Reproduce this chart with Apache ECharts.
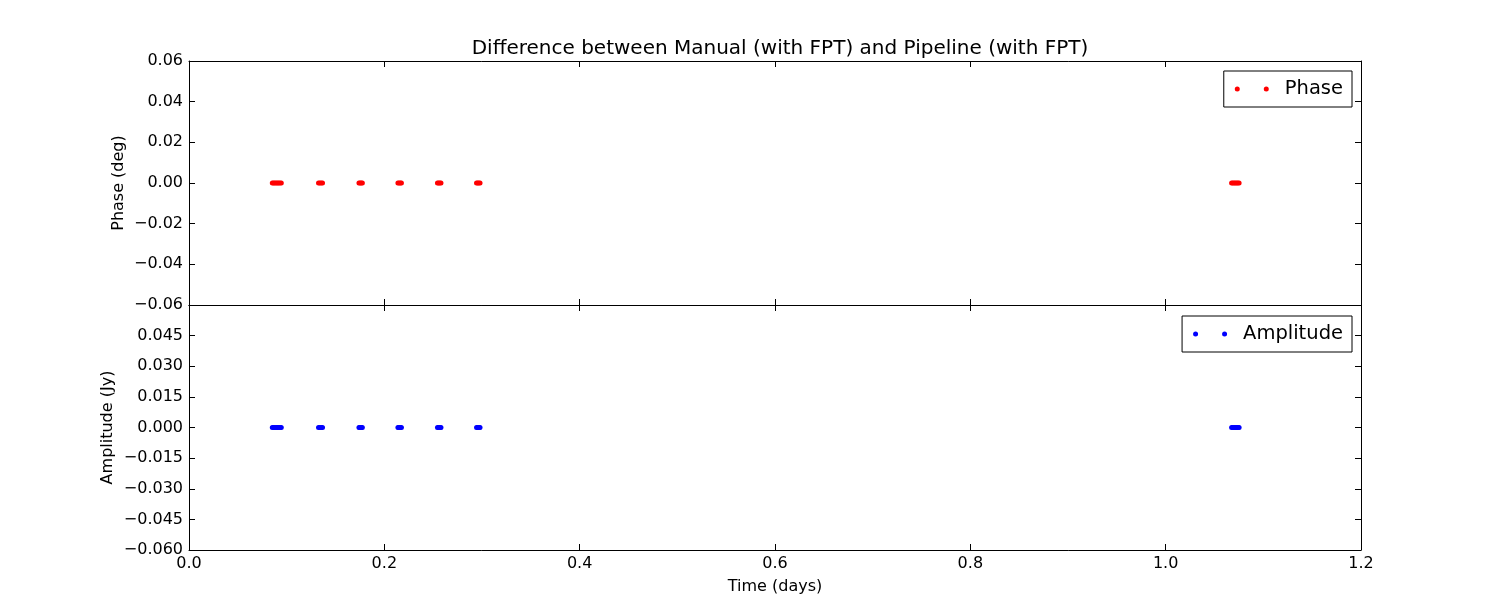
<!DOCTYPE html>
<html>
<head>
<meta charset="UTF-8">
<title>Difference between Manual (with FPT) and Pipeline (with FPT)</title>
<script src="https://cdn.jsdelivr.net/npm/echarts@6/dist/echarts.min.js"></script>
<style>
  html, body { margin: 0; padding: 0; background: #fff; }
  #chart { width: 1512px; height: 612px; }
</style>
</head>
<body>
<div id="chart"></div>
<script>
const times = [
  0.0853, 0.0866, 0.0879, 0.0892, 0.0905, 0.0918, 0.0931, 0.0945,
  0.1326, 0.1340, 0.1353, 0.1367,
  0.1740, 0.1752, 0.1763, 0.1775,
  0.2139, 0.2151, 0.2163, 0.2175,
  0.2544, 0.2556, 0.2568, 0.2580,
  0.2944, 0.2956, 0.2968, 0.2980,
  1.0675, 1.0688, 1.0700, 1.0713, 1.0726, 1.0739, 1.0752
];
// differences (all zero)
const phaseDiff = [
  0, 0, 0, 0, 0, 0, 0, 0,
  0, 0, 0, 0,
  0, 0, 0, 0,
  0, 0, 0, 0,
  0, 0, 0, 0,
  0, 0, 0, 0,
  0, 0, 0, 0, 0, 0, 0
];
const ampDiff = [
  0, 0, 0, 0, 0, 0, 0, 0,
  0, 0, 0, 0,
  0, 0, 0, 0,
  0, 0, 0, 0,
  0, 0, 0, 0,
  0, 0, 0, 0,
  0, 0, 0, 0, 0, 0, 0
];
const xRange = [0, 1.2, 0.2];
const phaseRange = [-0.06, 0.06, 0.02];
const ampRange = [-0.06, 0.06, 0.015];

const font = 'DejaVu Sans';
const minus = s => s.replace('-', '\u2212');
// two dots, like matplotlib's numpoints=2 legend marker
const twoDots = 'path://M0,2.5a2.5,2.5 0 1,0 5,0a2.5,2.5 0 1,0 -5,0M29,2.5a2.5,2.5 0 1,0 5,0a2.5,2.5 0 1,0 -5,0';

function xAx(grid, pos, labels) {
  return {
    type: 'value', gridIndex: grid, position: pos,
    min: xRange[0], max: xRange[1], interval: xRange[2],
    axisLine: { show: true, onZero: false, lineStyle: { color: '#000', width: 1 } },
    axisTick: { show: true, inside: true, length: 6, lineStyle: { color: '#000' } },
    splitLine: { show: false },
    axisLabel: {
      show: labels, color: '#000', fontFamily: font, fontSize: 16, margin: 6,
      formatter: v => v.toFixed(1)
    },
    name: labels ? 'Time (days)' : '',
    nameLocation: 'middle', nameGap: 29,
    nameTextStyle: { color: '#000', fontFamily: font, fontSize: 16 }
  };
}

function yAx(grid, pos, range, digits, name, gap, hideTop) {
  const left = pos === 'left';
  return {
    type: 'value', gridIndex: grid, position: pos,
    min: range[0], max: range[1], interval: range[2],
    axisLine: { show: true, onZero: false, lineStyle: { color: '#000', width: 1 } },
    axisTick: { show: true, inside: true, length: 6, lineStyle: { color: '#000' } },
    splitLine: { show: false },
    axisLabel: {
      show: left, color: '#000', fontFamily: font, fontSize: 16, margin: 6,
      formatter: v => (hideTop && Math.abs(v - range[1]) < 1e-9) ? '' : minus(v.toFixed(digits))
    },
    name: left ? name : '',
    nameLocation: 'middle', nameGap: gap, nameMoveOverlap: false,
    nameTextStyle: { color: '#000', fontFamily: font, fontSize: 16 }
  };
}

function legendFor(name, top) {
  return {
    data: [{ name: name, icon: twoDots }],
    right: 160, top: top,
    itemWidth: 34, itemHeight: 5,
    padding: [8, 9, 8, 11],
    borderColor: '#000', borderWidth: 1, borderRadius: 0,
    textStyle: { color: '#000', fontFamily: font, fontSize: 19.5, padding: [0, 0, 0, 11] }
  };
}

const chart = echarts.init(document.getElementById('chart'));
chart.setOption({
  animation: false,
  backgroundColor: '#fff',
  title: {
    text: 'Difference between Manual (with FPT) and Pipeline (with FPT)',
    left: 775, top: 34, textAlign: 'center',
    textStyle: { color: '#000', fontFamily: font, fontSize: 20, fontWeight: 'normal' }
  },
  grid: [
    { left: 189, top: 61, width: 1172, height: 244 },
    { left: 189, top: 305, width: 1172, height: 245 }
  ],
  xAxis: [
    xAx(0, 'bottom', false), xAx(0, 'top', false),
    xAx(1, 'bottom', true), xAx(1, 'top', false)
  ],
  yAxis: [
    yAx(0, 'left', phaseRange, 2, 'Phase (deg)', 62, false),
    yAx(0, 'right', phaseRange, 2, '', 0, false),
    yAx(1, 'left', ampRange, 3, 'Amplitude (Jy)', 73, true),
    yAx(1, 'right', ampRange, 3, '', 0, true)
  ],
  legend: [legendFor('Phase', 71), legendFor('Amplitude', 316)],
  series: [
    {
      name: 'Phase', type: 'scatter', xAxisIndex: 0, yAxisIndex: 0,
      symbol: 'circle', symbolSize: 5,
      itemStyle: { color: '#ff0000', opacity: 1 },
      data: times.map((t, i) => [t, phaseDiff[i]])
    },
    {
      name: 'Amplitude', type: 'scatter', xAxisIndex: 2, yAxisIndex: 2,
      symbol: 'circle', symbolSize: 5,
      itemStyle: { color: '#0000ff', opacity: 1 },
      data: times.map((t, i) => [t, ampDiff[i]])
    }
  ]
});
</script>
</body>
</html>
